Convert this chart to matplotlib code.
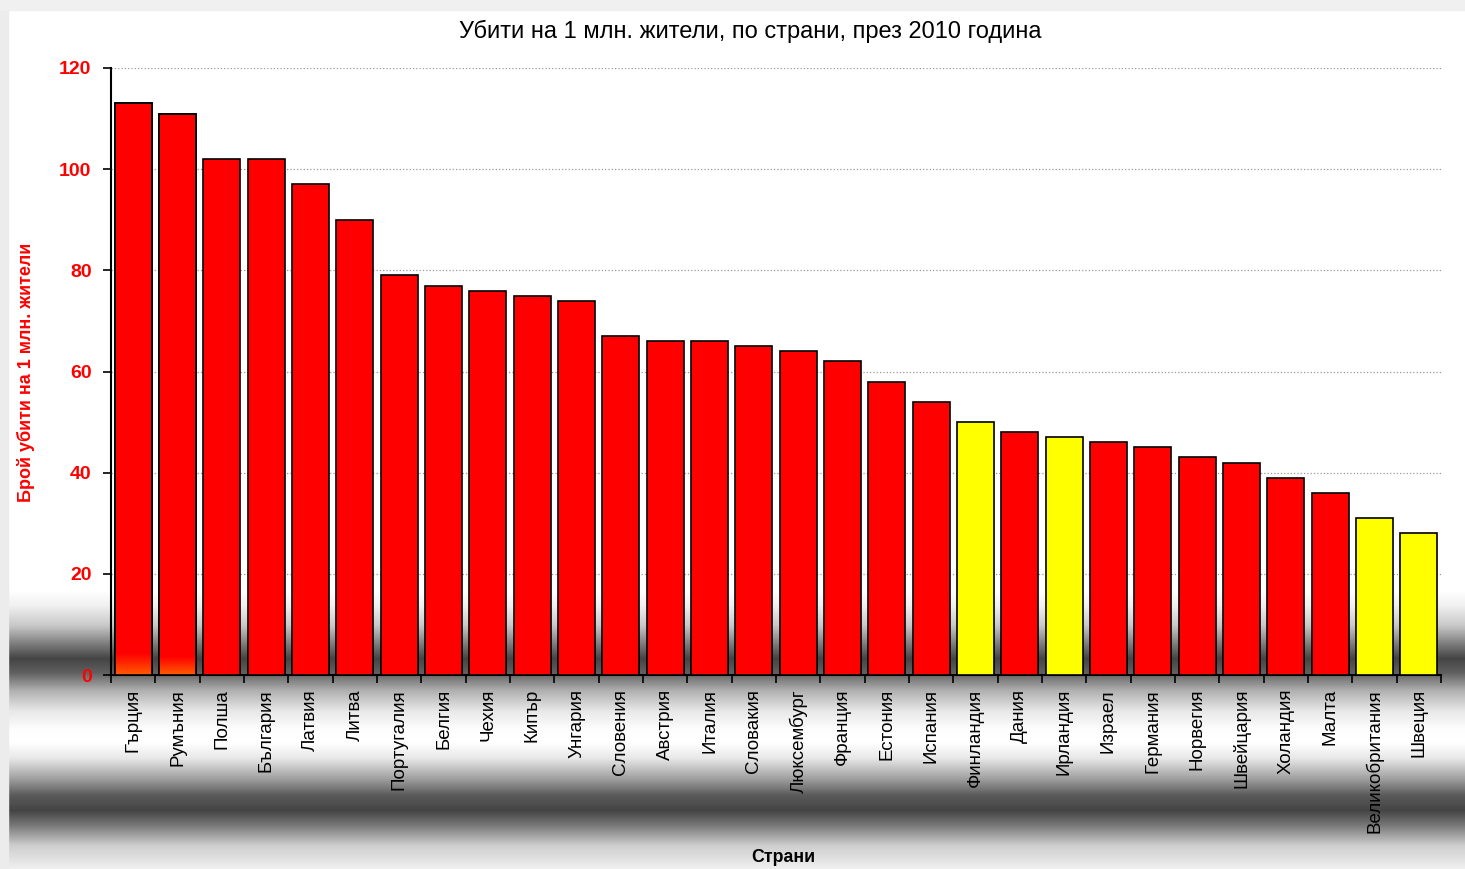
import numpy as np
import matplotlib.pyplot as plt
from matplotlib.ticker import FixedLocator
from matplotlib.colors import LinearSegmentedColormap

plt.rcParams['font.family'] = ['Liberation Sans', 'DejaVu Sans']

countries = ['Гърция', 'Румъния', 'Полша', 'България', 'Латвия', 'Литва', 'Португалия',
             'Белгия', 'Чехия', 'Кипър', 'Унгария', 'Словения', 'Австрия', 'Италия',
             'Словакия', 'Люксембург', 'Франция', 'Естония', 'Испания', 'Финландия',
             'Дания', 'Ирландия', 'Израел', 'Германия', 'Норвегия', 'Швейцария',
             'Холандия', 'Малта', 'Великобритания', 'Швеция']
killed = [113, 111, 102, 102, 97, 90, 79, 77, 76, 75, 74, 67, 66, 66, 65, 64, 62, 58, 54,
          50, 48, 47, 46, 45, 43, 42, 39, 36, 31, 28]
highlight = ['Финландия', 'Ирландия', 'Великобритания', 'Швеция']

W, H = 1465, 869
fig = plt.figure(figsize=(W / 100, H / 100), dpi=100)

# metallic banded background
bg = fig.add_axes([0, 0, 1, 1], zorder=-10)
py = np.arange(H)
knots_y = [0, 590, 605, 625, 642, 658, 672, 690, 710, 728, 742, 758, 778, 795, 810, 825, 845, 869]
knots_v = [255, 255, 240, 200, 130, 68, 95, 175, 230, 252, 255, 230, 160, 90, 68, 120, 205, 240]
col = np.interp(py, knots_y, knots_v) / 255.0
img = np.repeat(col[:, None], 10, axis=1)
bg.imshow(img, cmap='gray', vmin=0, vmax=1, aspect='auto', extent=[0, W, H, 0])
bg.axvspan(0, 8, color='#ececec')
bg.axhspan(0, 10, color='#f0f0f0')
bg.set_xlim(0, W)
bg.set_ylim(H, 0)
bg.axis('off')

ax = fig.add_axes([111 / W, 1 - 675 / H, 1330 / W, 607 / H])
ax.patch.set_alpha(0)

x = np.arange(len(countries))
colors = ['#ffff00' if c in highlight else '#ff0000' for c in countries]
bars = ax.bar(x, killed, width=0.83, color=colors, edgecolor='black', linewidth=1.2, zorder=3)

# orange glow at the foot of the first two bars
glow = LinearSegmentedColormap.from_list('glow', ['#ff5a00', '#ff0000'])
for b, top in zip(bars[:2], [4.2, 3.6]):
    x0 = b.get_x()
    im = ax.imshow(np.linspace(0, 1, 20)[:, None], cmap=glow, aspect='auto', origin='lower',
                   extent=[x0, x0 + b.get_width(), 0, top], zorder=3.5)
    im.set_clip_path(b)
    ax.bar(b.get_x() + b.get_width() / 2, b.get_height(), width=b.get_width(),
           facecolor='none', edgecolor='black', linewidth=1.2, zorder=4)

ax.set_xlim(-0.5, len(countries) - 0.5)
ax.set_ylim(0, 120)
ax.set_yticks(range(0, 121, 20))
ax.set_yticklabels([str(v) for v in range(0, 121, 20)], color='#ff0000',
                   fontsize=14, fontweight='bold')
ax.yaxis.grid(True, linestyle=':', color='#999999', linewidth=0.9, zorder=0)

ax.set_xticks(x)
ax.set_xticklabels(countries, rotation=90, fontsize=13.5, color='black')
ax.tick_params(axis='x', length=0, pad=10)
ax.xaxis.set_minor_locator(FixedLocator(np.arange(-0.5, len(countries), 1)))
ax.tick_params(axis='x', which='minor', length=6, width=1.2, direction='out')
ax.tick_params(axis='y', length=6, width=1.2, direction='out', pad=8)

for s in ['top', 'right']:
    ax.spines[s].set_visible(False)
for s in ['left', 'bottom']:
    ax.spines[s].set_linewidth(1.5)

fig.text(750 / W, 1 - 31 / H, 'Убити на 1 млн. жители, по страни, през 2010 година',
         ha='center', va='center', fontsize=17)
fig.text(26 / W, 1 - 372 / H, 'Брой убити на 1 млн. жители', rotation=90,
         ha='center', va='center', fontsize=13, fontweight='bold', color='#ff0000')
fig.text(783 / W, 1 - 857 / H, 'Страни', ha='center', va='center',
         fontsize=12.8, fontweight='bold', color='black')

fig.savefig('out.png', dpi=100)
